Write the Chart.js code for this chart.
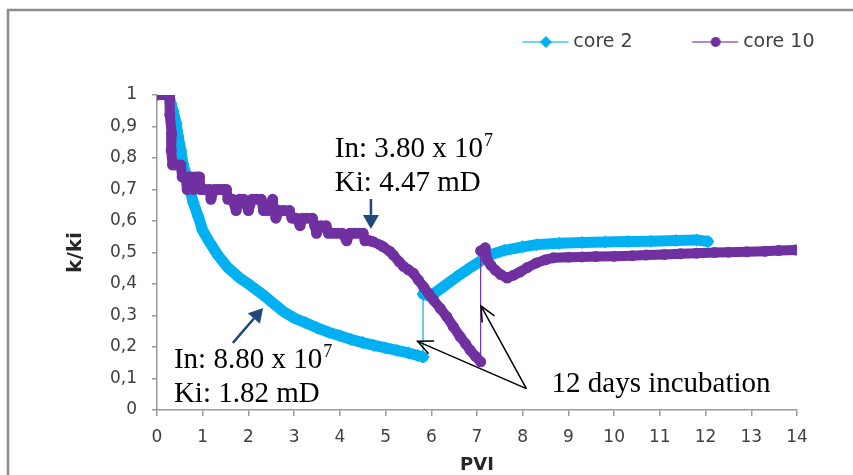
<!DOCTYPE html>
<html>
<head>
<meta charset="utf-8">
<script src="https://cdn.jsdelivr.net/npm/chart.js@4.4.1/dist/chart.umd.min.js"></script>
<style>
html,body{margin:0;padding:0;background:#fff;}
#wrap{width:853px;height:475px;}
</style>
</head>
<body>
<div id="wrap"><canvas id="c" width="853" height="475"></canvas></div>
<script>
// ---------- data ----------
const seriesNames = ['core 2', 'core 10'];

const core2PVI = [0.26,0.30,0.35,0.42,0.46,0.52,0.57,0.65,0.72,0.79,0.90,1.00,1.16,1.34,1.55,1.80,2.05,2.30,2.55,2.75,3.00,3.25,3.50,3.75,4.00,4.25,4.50,4.75,5.00,5.25,5.50,5.70,5.82,
                  5.82,5.95,6.10,6.30,6.55,6.80,7.05,7.30,7.60,8.00,8.30,8.80,9.30,9.80,10.30,10.80,11.35,11.80,12.05];
const core2K   = [1.000,0.975,0.950,0.910,0.870,0.825,0.780,0.740,0.700,0.660,0.615,0.570,0.530,0.490,0.452,0.420,0.395,0.368,0.338,0.314,0.292,0.277,0.261,0.247,0.236,0.224,0.214,0.205,0.197,0.189,0.181,0.173,0.168,
                  0.368,0.362,0.374,0.395,0.422,0.447,0.470,0.493,0.507,0.518,0.525,0.529,0.532,0.533,0.535,0.536,0.538,0.540,0.535];

const core10PVI = [0.00,0.22,0.27,0.28,0.32,0.31,0.34,0.40,0.46,0.52,0.55,0.62,0.66,0.70,0.76,0.80,0.84,0.90,0.93,0.95,1.05,1.15,1.18,1.25,1.32,1.40,1.48,1.52,1.55,1.65,1.73,1.80,1.90,2.00,2.08,2.18,2.28,2.33,2.43,2.53,2.56,2.60,2.68,2.78,2.90,2.95,3.05,3.13,3.18,3.28,3.40,3.45,3.49,3.58,3.70,3.75,3.85,3.95,4.05,4.15,4.22,4.32,4.42,4.51,4.55,4.65,4.73,4.88,4.95,5.10,5.17,5.30,5.40,5.50,5.61,5.72,5.83,5.94,6.05,6.20,6.34,6.48,6.63,6.75,6.85,6.97,7.08,
                   7.08,7.18,7.22,7.30,7.40,7.52,7.66,7.80,7.94,8.10,8.30,8.50,8.67,9.00,9.30,9.60,10.00,10.40,10.70,11.10,11.45,11.80,12.20,12.50,12.90,13.30,13.60,13.96];
const core10K   = [1.000,1.000,0.995,0.937,0.878,0.825,0.778,0.778,0.778,0.778,0.740,0.740,0.700,0.740,0.740,0.700,0.740,0.740,0.740,0.700,0.700,0.700,0.669,0.700,0.700,0.700,0.700,0.700,0.669,0.669,0.633,0.669,0.669,0.633,0.669,0.669,0.669,0.633,0.633,0.669,0.633,0.609,0.633,0.633,0.633,0.609,0.609,0.585,0.609,0.609,0.609,0.585,0.561,0.585,0.585,0.561,0.561,0.561,0.561,0.537,0.561,0.561,0.561,0.561,0.537,0.537,0.534,0.524,0.518,0.503,0.492,0.470,0.455,0.445,0.434,0.412,0.391,0.370,0.349,0.322,0.296,0.265,0.233,0.210,0.190,0.170,0.153,
                   0.505,0.515,0.478,0.460,0.444,0.430,0.419,0.428,0.438,0.452,0.467,0.477,0.483,0.485,0.486,0.487,0.488,0.490,0.492,0.494,0.496,0.498,0.500,0.501,0.502,0.504,0.506,0.508];

const xTickLabels = ['0','1','2','3','4','5','6','7','8','9','10','11','12','13','14'];
const yTickLabels = ['0','0,1','0,2','0,3','0,4','0,5','0,6','0,7','0,8','0,9','1'];
const xTitle = 'PVI';
const yTitle = 'k/ki';

const noteLines = ['In: 3.80 x 10', 'Ki: 4.47 mD', 'In: 8.80 x 10', 'Ki: 1.82 mD', '12 days incubation'];
const noteSup = '7';

// ---------- styling / layout ----------
const CYAN = '#00B0F0', PURPLE = '#7030A0';
const TICK_FONT = {family: "'DejaVu Sans', sans-serif", size: 17};
const TITLE_FONT = {family: "'DejaVu Sans', sans-serif", size: 18, weight: 'bold'};
const SERIF = "'Liberation Serif', 'Times New Roman', serif";

// annotation anchors in data units (PVI, k/ki)
const notePos = [
  {x: 3.89, y: 0.803, size: 29, sup: true},
  {x: 3.89, y: 0.695, size: 29},
  {x: 0.37, y: 0.132, size: 29, sup: true},
  {x: 0.37, y: 0.026, size: 29},
  {x: 8.63, y: 0.058, size: 29}
];
const arrowsDef = [
  {from: [4.68, 0.670], to: [4.68, 0.575], color: '#1F497D', w: 2.5, filled: true},
  {from: [1.66, 0.213], to: [2.32, 0.324], color: '#1F497D', w: 2.5, filled: true},
  {from: [8.08, 0.068], to: [5.70, 0.218], color: '#000', w: 1.5, filled: false},
  {from: [8.08, 0.068], to: [7.09, 0.330], color: '#000', w: 1.5, filled: false}
];

function legendIcon(color, marker) {
  const c = document.createElement('canvas');
  c.width = 110; c.height = 16;
  const g = c.getContext('2d');
  g.strokeStyle = color; g.globalAlpha = 0.75; g.lineWidth = 1.6;
  g.beginPath(); g.moveTo(58.5, 8); g.lineTo(104.5, 8); g.stroke();
  g.globalAlpha = 1; g.fillStyle = color; g.beginPath();
  if (marker === 'diamond') { g.moveTo(82, 2); g.lineTo(88, 8); g.lineTo(82, 14); g.lineTo(76, 8); g.closePath(); }
  else { g.arc(82, 8, 5, 0, Math.PI * 2); }
  g.fill();
  return c;
}
const legendIcons = [legendIcon(CYAN, 'diamond'), legendIcon(PURPLE, 'circle')];

const thinJump = w => ctx => (Math.abs(ctx.p1.parsed.y - ctx.p0.parsed.y) > 0.15 ? 1.2 : w);

const pageDeco = {
  id: 'pageDeco',
  beforeDraw(chart) {
    const ctx = chart.ctx;
    ctx.save();
    ctx.fillStyle = '#fff';
    ctx.fillRect(0, 0, chart.width, chart.height);
    ctx.strokeStyle = '#8c8c8c'; ctx.lineWidth = 2.5;
    ctx.strokeRect(8, 10, chart.width + 40, chart.height + 40);
    ctx.restore();
  }
};

function drawArrow(ctx, x0, y0, x1, y1, color, w, filled) {
  const a = Math.atan2(y1 - y0, x1 - x0);
  const hl = filled ? 14 : 15, hw = filled ? 8 : 7;
  const bx = x1 - Math.cos(a) * hl, by = y1 - Math.sin(a) * hl;
  const nx = -Math.sin(a) * hw, ny = Math.cos(a) * hw;
  ctx.strokeStyle = color; ctx.fillStyle = color; ctx.lineWidth = w; ctx.lineCap = 'butt';
  ctx.beginPath(); ctx.moveTo(x0, y0);
  if (filled) ctx.lineTo(bx, by); else ctx.lineTo(x1, y1);
  ctx.stroke();
  ctx.beginPath();
  if (filled) { ctx.moveTo(x1, y1); ctx.lineTo(bx + nx, by + ny); ctx.lineTo(bx - nx, by - ny); ctx.closePath(); ctx.fill(); }
  else { ctx.moveTo(bx + nx, by + ny); ctx.lineTo(x1, y1); ctx.lineTo(bx - nx, by - ny); ctx.stroke(); }
}

const notes = {
  id: 'notes',
  afterDatasetsDraw(chart) {
    const {ctx, scales: {x, y}} = chart;
    ctx.save();
    ctx.fillStyle = '#000'; ctx.textAlign = 'left'; ctx.textBaseline = 'alphabetic';
    noteLines.forEach((t, i) => {
      const p = notePos[i];
      const X = x.getPixelForValue(p.x), Y = y.getPixelForValue(p.y);
      ctx.font = p.size + 'px ' + SERIF;
      ctx.fillText(t, X, Y);
      if (p.sup) {
        const w = ctx.measureText(t).width;
        ctx.font = Math.round(p.size * 0.62) + 'px ' + SERIF;
        ctx.fillText(noteSup, X + w + 1, Y - 11);
      }
    });
    arrowsDef.forEach(a => {
      drawArrow(ctx, x.getPixelForValue(a.from[0]), y.getPixelForValue(a.from[1]),
                x.getPixelForValue(a.to[0]), y.getPixelForValue(a.to[1]), a.color, a.w, a.filled);
    });
    ctx.restore();
  }
};

new Chart(document.getElementById('c'), {
  type: 'scatter',
  data: {
    datasets: [
      {
        label: seriesNames[0],
        data: core2PVI.map((v, i) => ({x: v, y: core2K[i]})),
        showLine: true, borderColor: CYAN, backgroundColor: CYAN, borderWidth: 11,
        borderJoinStyle: 'round', borderCapStyle: 'round',
        pointStyle: 'rectRot', pointRadius: 6.5, pointBackgroundColor: CYAN, pointBorderWidth: 0,
        segment: {borderWidth: thinJump(11)}, order: 1
      },
      {
        label: seriesNames[1],
        data: core10PVI.map((v, i) => ({x: v, y: core10K[i]})),
        showLine: true, borderColor: PURPLE, backgroundColor: PURPLE, borderWidth: 10,
        borderJoinStyle: 'round', borderCapStyle: 'round',
        pointStyle: 'circle', pointRadius: 5.5, pointBackgroundColor: PURPLE, pointBorderWidth: 0,
        segment: {borderWidth: thinJump(10)}, order: 0
      }
    ]
  },
  options: {
    responsive: false, animation: false, devicePixelRatio: 1,
    events: [],
    layout: {padding: {left: 60, right: 27.5, top: 21.5, bottom: 0}},
    plugins: {
      legend: {
        position: 'top', align: 'end',
        labels: {
          usePointStyle: true, pointStyleWidth: 90, padding: 11,
          font: {family: "'DejaVu Sans', sans-serif", size: 19}, color: '#404040',
          sort: (a, b) => a.datasetIndex - b.datasetIndex,
          generateLabels: chart => chart.data.datasets.map((ds, i) => ({
            text: ds.label, pointStyle: legendIcons[i], fillStyle: ds.borderColor,
            strokeStyle: ds.borderColor, lineWidth: 0, hidden: false, datasetIndex: i, fontColor: '#404040'
          }))
        }
      },
      subtitle: {display: true, text: '', position: 'top', weight: 500, font: {size: 10}, padding: {top: 21.5, bottom: 0}},
      tooltip: {enabled: false}
    },
    scales: {
      x: {
        type: 'linear', position: 'bottom', min: 0, max: 14,
        ticks: {stepSize: 1, padding: 11, font: TICK_FONT, color: '#404040', maxRotation: 0,
                callback: v => xTickLabels[Math.round(v)]},
        grid: {display: true, drawOnChartArea: false, drawTicks: true, tickLength: 6, color: '#9a9a9a', lineWidth: 1.5},
        border: {display: true, color: '#9a9a9a', width: 1.5},
        title: {display: true, text: xTitle, font: TITLE_FONT, color: '#262626', padding: {top: 0, bottom: -1}},
        afterFit(s) { s.height = 65; s.paddingRight = 56; }
      },
      y: {
        type: 'linear', min: 0, max: 1,
        ticks: {stepSize: 0.1, padding: 15, font: TICK_FONT, color: '#404040',
                callback: v => yTickLabels[Math.round(v * 10)]},
        grid: {display: true, drawOnChartArea: false, drawTicks: true, tickLength: 5, color: '#9a9a9a', lineWidth: 1.5},
        border: {display: true, color: '#9a9a9a', width: 1.5},
        title: {display: true, text: yTitle, font: {family: "'DejaVu Sans', sans-serif", size: 20, weight: 'bold'}, color: '#262626', padding: {top: 4, bottom: 0}},
        afterFit(s) { s.width = 97; }
      }
    }
  },
  plugins: [pageDeco, notes]
});
</script>
</body>
</html>
